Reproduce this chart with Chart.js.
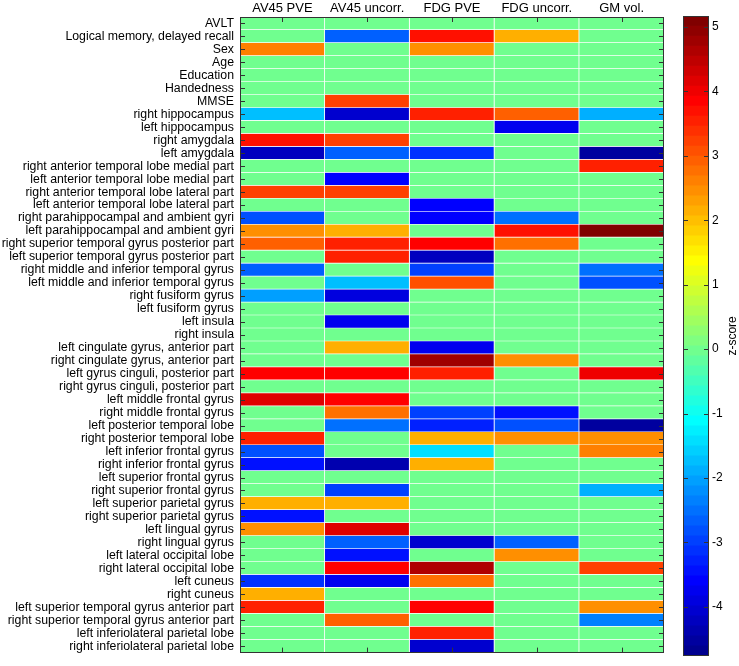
<!DOCTYPE html>
<html>
<head>
<meta charset="utf-8">
<script src="https://cdn.jsdelivr.net/npm/chart.js@4.4.1/dist/chart.umd.min.js"></script>
<style>
  body { margin: 0; background: #fff; }
  #wrap { position: relative; width: 739px; height: 666px; }
  #heat { position: absolute; left: 0; top: 0; }
  #cbar { position: absolute; left: 660px; top: 0; }
</style>
</head>
<body>
<div id="wrap">
  <canvas id="heat" width="739" height="666"></canvas>
  <canvas id="cbar" width="79" height="666"></canvas>
</div>
<script>
let regions = [
  "AVLT", "Logical memory, delayed recall", "Sex", "Age", "Education", "Handedness", "MMSE",
  "right hippocampus", "left hippocampus", "right amygdala", "left amygdala",
  "right anterior temporal lobe medial part", "left anterior temporal lobe medial part",
  "right anterior temporal lobe lateral part", "left anterior temporal lobe lateral part",
  "right parahippocampal and ambient gyri", "left parahippocampal and ambient gyri",
  "right superior temporal gyrus posterior part", "left superior temporal gyrus posterior part",
  "right middle and inferior temporal gyrus", "left middle and inferior temporal gyrus",
  "right fusiform gyrus", "left fusiform gyrus", "left insula", "right insula",
  "left cingulate gyrus, anterior part", "right cingulate gyrus, anterior part",
  "left gyrus cinguli, posterior part", "right gyrus cinguli, posterior part",
  "left middle frontal gyrus", "right middle frontal gyrus",
  "left posterior temporal lobe", "right posterior temporal lobe",
  "left inferior frontal gyrus", "right inferior frontal gyrus",
  "left superior frontal gyrus", "right superior frontal gyrus",
  "left superior parietal gyrus", "right superior parietal gyrus",
  "left lingual gyrus", "right lingual gyrus",
  "left lateral occipital lobe", "right lateral occipital lobe",
  "left cuneus", "right cuneus",
  "left superior temporal gyrus anterior part", "right superior temporal gyrus anterior part",
  "left inferiolateral parietal lobe", "right inferiolateral parietal lobe"
];
let columns = ["AV45 PVE", "AV45 uncorr.", "FDG PVE", "FDG uncorr.", "GM vol."];

let av45Pve = [0, 0, 2.6, 0, 0, 0, 0, -1.8, 0, 3.7, -4.2, 0, 0, 3.2, 0, -2.8, 2.4, 2.9, 0, -2.7,
  0, -2.1, 0, 0, 0, 0, 0, 3.9, 0, 4.1, 0, 0, 3.6, -2.8, -3.5, 0, 0, 2.1, -3.5, 2.4,
  0, 0, 0, -3.2, 2.1, 3.5, 0, 0, 0];
let av45Uncorr = [0, -2.6, 0, 0, 0, 0, 3.3, -4.1, 0, 3.3, -2.6, 0, -3.6, 3.2, 0, 0, 2.2, 3.5, 3.6, 0,
  -1.8, -3.9, 0, -3.7, 0, 2.1, 0, 3.85, 0, 3.8, 2.7, -2.5, 0, 0, -4.4, 0, -3.0, 2.1, 0, 4.2,
  -2.6, -3.5, 3.8, -3.7, 0, 0, 2.9, 0, 0];
let fdgPve = [0, 3.7, 2.5, 0, 0, 0, 0, 3.6, 0, 0, -3.1, 0, 0, 0, -3.6, -3.6, 0, 3.9, -4.2, -3.0,
  3.0, 0, 0, 0, 0, -3.7, 4.8, 3.5, 0, 0, -2.9, -3.3, 2.1, -1.5, 2.1, 0, 0, 0, 0, 0,
  -4.0, 0, 4.6, 2.8, 0, 3.9, 0, 3.5, -4.1];
let fdgUncorr = [0, 2.1, 0, 0, 0, 0, 0, 2.9, -3.7, 0, 0, 0, 0, 0, 0, -2.5, 3.7, 2.7, 0, 0,
  0, 0, 0, 0, 0, 0, 2.5, 0, 0, 0, -3.4, -2.8, 2.5, 0, 0, 0, 0, 0, 0, 0,
  -2.6, 2.4, 0, 0, 0, 0, 0, 0, 0];
let gmVol = [0, 0, 0, 0, 0, 0, 0, -1.9, 0, 0, -4.6, 3.5, 0, 0, 0, 0, 5.1, 0, 0, -2.5,
  -2.8, 0, 0, 0, 0, 0, 0, 3.95, 0, 0, 0, -4.6, 2.5, 2.6, 0, 0, -1.9, 0, 0, 0,
  0, 0, 3.3, 0, 0, 2.4, -2.4, 0, 0];

let zMin = -4.76;
let zMax = 5.17;

// MATLAB jet(64)
function jet(k) {
  let u = j => (j < 1 || j > 47) ? 0 : (j <= 16 ? j / 16 : (j <= 31 ? 1 : (48 - j) / 16));
  let i = k + 1;
  let c = [u(i - 24), u(i - 8), u(i + 8)].map(x => Math.round(x * 255));
  return `rgb(${c[0]}, ${c[1]}, ${c[2]})`;
}
function colorIndex(v) {
  return Math.min(63, Math.max(0, Math.floor((v - zMin) / (zMax - zMin) * 64)));
}

let font = "'Liberation Sans', Arial, sans-serif";
let heatValues = [av45Pve, av45Uncorr, fdgPve, fdgUncorr, gmVol];

let heatFrame = {
  id: "heatFrame",
  afterDatasetsDraw(chart) {
    let { ctx, chartArea: a, scales } = chart;
    ctx.save();
    ctx.strokeStyle = "#333";
    ctx.lineWidth = 1;
    ctx.beginPath();
    scales.y.ticks.forEach((t, i) => {
      let y = Math.round(scales.y.getPixelForTick(i)) + 0.5;
      ctx.moveTo(a.left, y); ctx.lineTo(a.left + 5, y);
      ctx.moveTo(a.right, y); ctx.lineTo(a.right - 5, y);
    });
    scales.x.ticks.forEach(t => {
      let x = Math.round(scales.x.getPixelForValue(t.value)) + 0.5;
      ctx.moveTo(x, a.top); ctx.lineTo(x, a.top + 5);
      ctx.moveTo(x, a.bottom); ctx.lineTo(x, a.bottom - 5);
    });
    ctx.stroke();
    ctx.strokeRect(Math.round(a.left) + 0.5, Math.round(a.top) + 0.5,
      Math.round(a.right - a.left) - 1, Math.round(a.bottom - a.top) - 1);
    ctx.restore();
  }
};

new Chart(document.getElementById("heat"), {
  type: "bar",
  data: {
    labels: regions,
    datasets: heatValues.map((vals, c) => ({
      label: columns[c],
      data: vals.map(() => [c, c + 1]),
      backgroundColor: vals.map(v => jet(colorIndex(v))),
      borderColor: "rgba(255,255,255,0.85)",
      borderWidth: { top: 0, left: 0, right: 1, bottom: 1 },
      borderSkipped: false,
      grouped: false,
      barPercentage: 1,
      categoryPercentage: 1,
    })),
  },
  options: {
    indexAxis: "y",
    responsive: false,
    animation: false,
    layout: { padding: { left: 0, top: 0, right: 75, bottom: 4 } },
    plugins: { legend: { display: false }, tooltip: { enabled: false } },
    scales: {
      x: {
        type: "linear",
        position: "top",
        min: 0,
        max: 5,
        grid: { display: false, drawTicks: false },
        border: { display: false },
        afterBuildTicks: s => { s.ticks = columns.map((_, i) => ({ value: i + 0.5 })); },
        afterFit: s => { s.height = 17; },
        ticks: {
          callback: v => columns[Math.floor(v)],
          font: { family: font, size: 13 },
          color: "#000",
          padding: 1,
          maxRotation: 0,
        },
      },
      y: {
        grid: { display: false, drawTicks: false },
        border: { display: false },
        afterFit: s => { s.width = 240; },
        ticks: {
          autoSkip: false,
          font: { family: font, size: 12.3 },
          color: "#000",
          padding: 6,
        },
      },
    },
  },
  plugins: [heatFrame],
});

let cbarFrame = {
  id: "cbarFrame",
  afterDatasetsDraw(chart) {
    let { ctx, chartArea: a, scales } = chart;
    ctx.save();
    ctx.strokeStyle = "#333";
    ctx.lineWidth = 1;
    ctx.beginPath();
    scales.y.ticks.forEach(t => {
      let y = Math.round(scales.y.getPixelForValue(t.value)) + 0.5;
      ctx.moveTo(a.left, y); ctx.lineTo(a.left + 5, y);
      ctx.moveTo(a.right, y); ctx.lineTo(a.right - 5, y);
    });
    ctx.stroke();
    ctx.strokeRect(Math.round(a.left) + 0.5, Math.round(a.top) + 0.5,
      Math.round(a.right - a.left) - 1, Math.round(a.bottom - a.top) - 1);
    ctx.translate(73, (a.top + a.bottom) / 2);
    ctx.rotate(-Math.PI / 2);
    ctx.fillStyle = "#000";
    ctx.font = "12px " + font;
    ctx.textAlign = "center";
    ctx.textBaseline = "middle";
    ctx.fillText("z-score", 0, 0);
    ctx.restore();
  }
};

let cbarSteps = Array.from({ length: 64 }, (_, k) => k);
new Chart(document.getElementById("cbar"), {
  type: "bar",
  data: {
    labels: [""],
    datasets: cbarSteps.map(k => ({
      data: [[zMin + k * (zMax - zMin) / 64, zMin + (k + 1) * (zMax - zMin) / 64]],
      backgroundColor: jet(k),
      borderWidth: 0,
      grouped: false,
      barPercentage: 1,
      categoryPercentage: 1,
    })),
  },
  options: {
    responsive: false,
    animation: false,
    layout: { padding: { left: 23, top: 16, right: 0, bottom: 3 } },
    plugins: { legend: { display: false }, tooltip: { enabled: false } },
    scales: {
      x: { display: false },
      y: {
        position: "right",
        min: zMin,
        max: zMax,
        grid: { display: false, drawTicks: false },
        border: { display: false },
        afterFit: s => { s.width = 30; },
        ticks: {
          stepSize: 1,
          includeBounds: false,
          font: { family: font, size: 12 },
          color: "#000",
          padding: 3,
        },
      },
    },
  },
  plugins: [cbarFrame],
});
</script>
</body>
</html>
